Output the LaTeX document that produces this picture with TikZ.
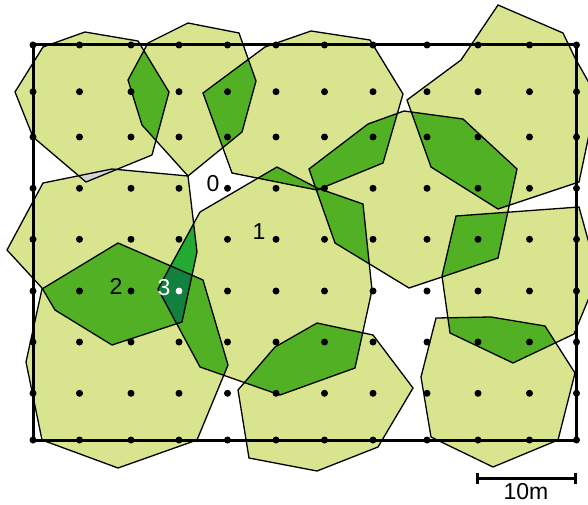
\documentclass[tikz,border=0pt]{standalone}
\usepackage{fontspec}
\setmainfont{Liberation Sans}
\usepackage{xcolor}
\usepackage{tikz}

\definecolor{crownfill}{RGB}{216,229,142}
\definecolor{twofill}{RGB}{82,176,37}
\definecolor{slivfill}{RGB}{34,170,50}
\definecolor{threefill}{RGB}{18,128,62}
\definecolor{grayfill}{RGB}{212,212,212}

% crown outlines, in pixels of the plot (y runs down)
\newcommand\crTL{(15,92) -- (43,47) -- (85,32) -- (138,41) -- (169,92) -- (152,155) -- (86,182) -- (33,137) -- cycle}
\newcommand\crTM{(148,43) -- (188,23) -- (239,33) -- (256,81) -- (242,132) -- (188,176) -- (142,125) -- (128,80) -- cycle}
\newcommand\crTC{(203,93) -- (265,47) -- (311,31) -- (370,40) -- (403,94) -- (383,163) -- (317,190) -- (232,173) -- cycle}
\newcommand\crTR{(498,5) -- (563,33) -- (575,58) -- (597,97) -- (579,182) -- (498,209) -- (431,167) -- (407,100) -- (461,60) -- cycle}
\newcommand\crCR{(309,169) -- (368,124) -- (404,111) -- (463,119) -- (517,169) -- (498,258) -- (442,277) -- (409,288) -- (335,243) -- cycle}
\newcommand\crC{(158,289) -- (200,212) -- (277,167) -- (317,188) -- (363,204) -- (372,290) -- (355,368) -- (280,395) -- (200,367) -- cycle}
\newcommand\crLM{(7,250) -- (43,183) -- (112,169) -- (188,176) -- (197,252) -- (182,322) -- (112,345) -- (55,310) -- (42,288) -- cycle}
\newcommand\crBL{(42,289) -- (118,243) -- (203,280) -- (228,365) -- (197,440) -- (118,468) -- (42,440) -- (26,362) -- cycle}
\newcommand\crBC{(238,390) -- (275,347) -- (317,323) -- (373,335) -- (413,388) -- (378,447) -- (317,471) -- (249,458) -- cycle}
\newcommand\crRM{(456,216) -- (579,207) -- (598,276) -- (574,334) -- (513,363) -- (450,333) -- (442,276) -- cycle}
\newcommand\crBR{(436,318) -- (491,317) -- (545,326) -- (575,373) -- (558,440) -- (493,467) -- (431,437) -- (421,377) -- cycle}

\begin{document}
\begin{tikzpicture}[x=1pt,y=-1pt,
  rim/.style={draw=black,line width=1.3pt},
  lbl/.style={inner sep=0pt,font=\fontsize{23}{25}\selectfont}]
  \clip (0,0) rectangle (588,505);

  \foreach \p in {\crTL,\crTM,\crTC,\crTR,\crCR,\crC,\crLM,\crBL,\crBC,\crRM,\crBR}
    \fill[crownfill] \p;

  % two crowns
  \foreach \a/\b in {\crTL/\crTM,\crTM/\crTC,\crTC/\crCR,\crTC/\crC,\crCR/\crTR,\crCR/\crC,
                     \crCR/\crRM,\crRM/\crBR,\crC/\crBC,\crC/\crBL,\crLM/\crBL}
    {\begin{scope} \clip \a; \fill[twofill] \b; \end{scope}}
  \begin{scope} \clip \crC;  \fill[slivfill] \crLM; \end{scope}
  \begin{scope} \clip \crTL; \fill[grayfill] \crLM; \end{scope}
  % three crowns
  \begin{scope} \clip \crC; \clip \crLM; \fill[threefill] \crBL; \end{scope}

  \foreach \p in {\crTL,\crTM,\crTC,\crTR,\crCR,\crC,\crLM,\crBL,\crBC,\crRM,\crBR}
    \draw[rim] \p;

  \draw[line width=3pt] (33,45) rectangle (576.5,440);
  \foreach \x in {33,79.5,131,179,227.5,276,324.5,373,427,478,529.5,576.5}
    \foreach \y in {45,91.7,137,188.3,239.3,291,342,393.3,440}
      \fill (\x,\y) circle[radius=3.5pt];
  \fill[white] (179,291) circle[radius=3.5pt];

  \node[lbl]            (n0) at (213,184) {0};
  \node[lbl]            (n1) at (259,232) {1};
  \node[lbl]            (n2) at (116,286) {2};
  \node[lbl,text=white] (n3) at (164,288) {3};

  \coordinate (barL) at (477,478);
  \coordinate (barR) at (575,478);
  \draw[line width=3pt] (barL) -- (barR);
  \draw[line width=3pt] ([yshift=-5.5pt]barL) -- ([yshift=5.5pt]barL);
  \draw[line width=3pt] ([yshift=-5.5pt]barR) -- ([yshift=5.5pt]barR);
  \node[lbl] (scale) at (526,492) {10m};
\end{tikzpicture}
\end{document}
